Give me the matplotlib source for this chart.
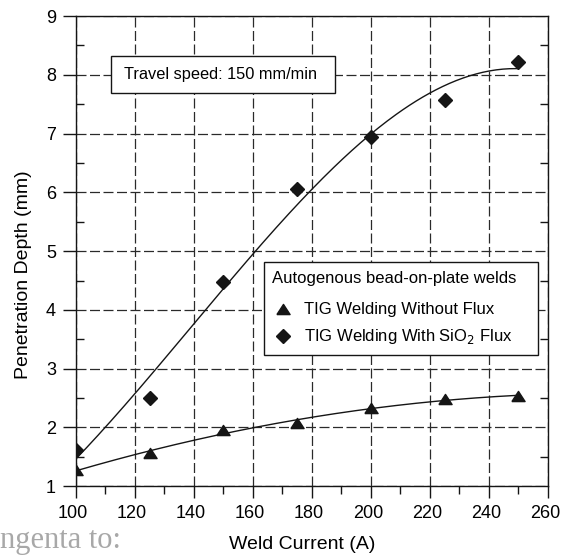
import numpy as np
import matplotlib
matplotlib.use("Agg")
import matplotlib.pyplot as plt
import matplotlib.transforms as mtransforms
from matplotlib.ticker import MultipleLocator
from matplotlib.lines import Line2D
from matplotlib.patches import Rectangle

plt.rcParams['font.family'] = ['Liberation Sans', 'DejaVu Sans']

current = [100, 125, 150, 175, 200, 225, 250]
no_flux = [1.27, 1.57, 1.95, 2.07, 2.33, 2.49, 2.53]
sio2_flux = [1.61, 2.50, 4.48, 6.06, 6.95, 7.58, 8.22]

# flattened triangle like the original figure
tri = [(-1, -0.77), (1, -0.77), (0, 0.77), (-1, -0.77)]
ink = '#151515'

fig = plt.figure(figsize=(5.62, 5.55), dpi=100)
ax = fig.add_axes([0.135, 0.124, 0.84, 0.847])

# fitted trend lines
xx = np.linspace(100, 250, 200)
p1 = np.polyfit(current, no_flux, 2)
p2 = np.polyfit(current, sio2_flux, 3)
ax.plot(xx, np.polyval(p1, xx), color=ink, lw=1)
ax.plot(xx, np.polyval(p2, xx), color=ink, lw=1)

ax.plot(current, no_flux, marker=tri, color=ink, ms=9.5, ls='none')
ax.plot(current, sio2_flux, 'D', color=ink, ms=7, ls='none')

ax.set_xlim(100, 260)
ax.set_ylim(1, 9)
ax.xaxis.set_major_locator(MultipleLocator(20))
ax.xaxis.set_minor_locator(MultipleLocator(10))
ax.yaxis.set_major_locator(MultipleLocator(1))
ax.yaxis.set_minor_locator(MultipleLocator(0.5))
ax.tick_params(which='both', direction='out', labelsize=13, width=1, color=ink)
ax.tick_params(axis='x', which='major', length=8.4, pad=5)
ax.tick_params(axis='x', which='minor', length=5.5)
ax.tick_params(axis='y', which='major', length=9.4, pad=5)
ax.tick_params(axis='y', which='minor', length=5.5)
ax.tick_params(axis='y', which='minor', right=True, direction='in')
ax.grid(True, which='major', color='#2a2a2a', ls=(0, (8, 2.8)), lw=0.9)
for s in ax.spines.values():
    s.set_color(ink)
    s.set_linewidth(1)

# x tick labels sit a little left of their ticks in the original
shift = mtransforms.ScaledTranslation(-0.03, 0, fig.dpi_scale_trans)
for lab in ax.get_xticklabels():
    lab.set_transform(lab.get_transform() + shift)

ax.set_xlabel('Weld Current (A)', fontsize=14, va='top')
ax.set_ylabel('Penetration Depth (mm)', fontsize=14)
ax.xaxis.set_label_coords(0.48, -0.105)
ax.yaxis.set_label_coords(-0.093, 0.449)

ax.add_patch(Rectangle((0.0742, 0.836), 0.4746, 0.0787, transform=ax.transAxes,
                       fc='white', ec=ink, lw=1, zorder=3))
ax.text(0.1017, 0.8755, 'Travel speed: 150 mm/min', transform=ax.transAxes,
        fontsize=11.8, va='center', ha='left', zorder=4)

handles = [Line2D([], [], marker=tri, color=ink, ls='none', ms=9.5),
           Line2D([], [], marker='D', color=ink, ls='none', ms=7)]
leg = ax.legend(handles, ['TIG Welding Without Flux', 'TIG Welding With SiO$_2$ Flux'],
                title='Autogenous bead-on-plate welds', loc='upper left',
                bbox_to_anchor=(0.398, 0.0, 0.5805, 0.476), mode='expand',
                borderaxespad=0, alignment='left',
                fontsize=12, title_fontsize=12,
                frameon=True, fancybox=False, edgecolor=ink, framealpha=1,
                handletextpad=0.6, borderpad=0.5, labelspacing=0.6, handlelength=1.3)
leg.get_frame().set_linewidth(1)
leg._legend_box.sep = 12  # wider gap under the legend title

fig.text(0.0, 0.013, 'ngenta to:', fontsize=22, color='#a8a8a8',
         family='Liberation Serif', ha='left', va='baseline')

fig.savefig('out.png', dpi=100)
